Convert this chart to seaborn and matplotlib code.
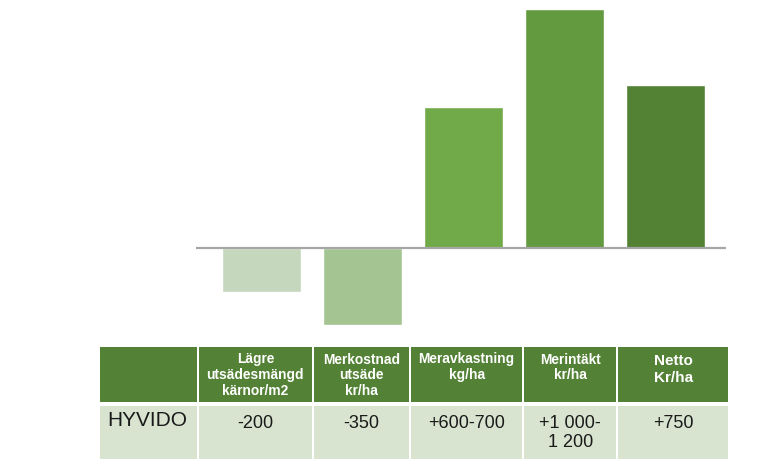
import matplotlib
matplotlib.use('Agg')
import matplotlib.pyplot as plt
import seaborn as sns
from matplotlib.patches import Rectangle

# Data
categories = ['Lägre\nutsädesmängd\nkärnor/m2', 'Merkostnad\nutsäde\nkr/ha',
              'Meravkastning\nkg/ha', 'Merintäkt\nkr/ha', 'Netto\nKr/ha']
values = [-200, -350, 640, 1085, 740]
row_label = 'HYVIDO'
row_values = ['-200', '-350', '+600-700', '+1 000-\n1 200', '+750']
bar_colors = ['#C5D8BD', '#A4C591', '#71AB49', '#639A3F', '#538234']

sns.set_style('white')
plt.rcParams['font.family'] = ['Liberation Sans', 'DejaVu Sans']

W, H = 768, 474
fig = plt.figure(figsize=(W / 100, H / 100), dpi=100)

# Bar chart
ax = fig.add_axes([196 / W, (H - 340) / H, (726 - 196) / W, 340 / H])
sns.barplot(x=categories, y=values, hue=categories, palette=bar_colors,
            legend=False, width=0.785, saturation=1, ax=ax)
ax.set_xlim(-0.65, 4.6)
ax.set_ylim(-92 / 0.22, 248 / 0.22)
ax.axhline(0, color='#A6A6A6', lw=1.6, zorder=5)
ax.axis('off')

# Table
tx = fig.add_axes([0, 0, 1, 1])
tx.set_xlim(0, W)
tx.set_ylim(H, 0)
tx.axis('off')

col_edges = [99, 198, 312.7, 410, 523.3, 617.3, 729]
head_top, head_bot = 347.3, 402.3
row_top, row_bot = 405.7, 459.3
head_color = '#538135'
row_color = '#D8E4D0'

for i in range(len(col_edges) - 1):
    x0, x1 = col_edges[i] + 1, col_edges[i + 1] - 1
    tx.add_patch(Rectangle((x0, head_top), x1 - x0, head_bot - head_top,
                           facecolor=head_color, edgecolor='none'))
    tx.add_patch(Rectangle((x0, row_top), x1 - x0, row_bot - row_top,
                           facecolor=row_color, edgecolor='none'))

for i, lab in enumerate(categories):
    cx = (col_edges[i + 1] + col_edges[i + 2]) / 2
    if i == len(categories) - 1:
        tx.text(cx, 354, lab, ha='center', va='top', color='white',
                fontsize=11, fontweight='bold', linespacing=1.24)
    else:
        tx.text(cx, 352.5, lab, ha='center', va='top', color='white',
                fontsize=9.9, fontweight='bold', linespacing=1.17)

tx.text(107, 421, row_label, ha='left', va='center', color='#1a1a1a',
        fontsize=15)
for i, val in enumerate(row_values):
    cx = (col_edges[i + 1] + col_edges[i + 2]) / 2
    tx.text(cx, 414.5, val, ha='center', va='top', color='#1a1a1a',
            fontsize=13, linespacing=1.2)

plt.savefig('out.png', dpi=100)
